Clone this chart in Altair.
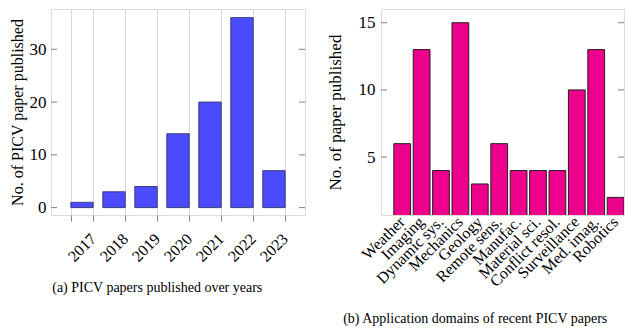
import altair as alt
import pandas as pd

years = ["2017", "2018", "2019", "2020", "2021", "2022", "2023"]
year_counts = [1, 3, 4, 14, 20, 36, 7]

domains = ["Weather", "Imaging", "Dynamic sys.", "Mechanics", "Geology", "Remote sens.",
           "Manufac.", "Material sci.", "Conflict resol.", "Surveillance", "Med. imag.", "Robotics"]
domain_counts = [6, 13, 4, 15, 3, 6, 4, 4, 4, 10, 13, 2]

left_ticks = [0, 10, 20, 30]
right_ticks = [5, 10, 15]

FONT = "Liberation Serif"
BORDER = "#808080"

df_a = pd.DataFrame({"year": years, "count": year_counts})
df_b = pd.DataFrame({"domain": domains, "count": domain_counts})
df_ta = pd.DataFrame({"v": left_ticks})
df_tb = pd.DataFrame({"v": right_ticks})

WA, HA = 254, 206
WB, HB = 243, 206

ya = alt.Scale(domain=[-1.4, 37.64], nice=False, zero=False)
bars_a = alt.Chart(df_a).mark_bar(color="#4b4bff", stroke="#3c3c80", strokeWidth=1).encode(
    x=alt.X("year:N", sort=years, title=None,
            scale=alt.Scale(paddingInner=0.3, paddingOuter=0.62),
            axis=alt.Axis(labelAngle=-45, labelAlign="right", labelBaseline="middle",
                          labelFont=FONT, labelFontSize=16, labelColor="black",
                          labelOffset=11, labelPadding=15,
                          tickBand="extent", ticks=True, tickSize=6, tickColor=BORDER,
                          grid=True, gridColor="#d9d9d9", domain=False)),
    y=alt.Y("count:Q", scale=ya, title="No. of PICV paper published",
            axis=alt.Axis(values=left_ticks, ticks=False, grid=False, domain=False,
                          labelFont=FONT, labelFontSize=17, labelColor="black", labelPadding=5,
                          titleFont=FONT, titleFontSize=16, titleFontWeight="normal",
                          titleColor="black", titlePadding=4)),
)
ticks_al = alt.Chart(df_ta).mark_rule(color=BORDER).encode(
    y=alt.Y("v:Q", scale=ya), x=alt.value(0), x2=alt.value(6))
ticks_ar = alt.Chart(df_ta).mark_rule(color=BORDER).encode(
    y=alt.Y("v:Q", scale=ya), x=alt.value(WA - 6), x2=alt.value(WA))

chart_a = alt.layer(bars_a, ticks_al, ticks_ar).properties(
    width=WA, height=HA,
    title=alt.TitleParams("(a) PICV papers published over years", orient="bottom",
                          frame="bounds", anchor="middle", font=FONT, fontSize=14,
                          fontWeight="normal", color="black", offset=17),
)

yb = alt.Scale(domain=[0.69, 16.02], nice=False, zero=False)
bars_b = alt.Chart(df_b).mark_bar(color="#ec008c", stroke="#222222", strokeWidth=1, clip=True).encode(
    x=alt.X("domain:N", sort=domains, title=None,
            scale=alt.Scale(paddingInner=0.135, paddingOuter=0.33, align=1),
            axis=alt.Axis(labelAngle=-45, labelAlign="right", labelBaseline="middle",
                          labelFont=FONT, labelFontSize=16, labelColor="black",
                          labelPadding=4, ticks=False, grid=False, domain=False)),
    y=alt.Y("count:Q", scale=yb, title="No. of paper published",
            axis=alt.Axis(values=right_ticks, ticks=False, grid=False, domain=False,
                          labelFont=FONT, labelFontSize=17, labelColor="black", labelPadding=6,
                          titleFont=FONT, titleFontSize=17, titleFontWeight="normal",
                          titleColor="black", titlePadding=14)),
)
ticks_bl = alt.Chart(df_tb).mark_rule(color=BORDER).encode(
    y=alt.Y("v:Q", scale=yb), x=alt.value(0), x2=alt.value(6))
ticks_br = alt.Chart(df_tb).mark_rule(color=BORDER).encode(
    y=alt.Y("v:Q", scale=yb), x=alt.value(WB - 6), x2=alt.value(WB))

chart_b = alt.layer(bars_b, ticks_bl, ticks_br).properties(
    width=WB, height=HB,
    title=alt.TitleParams("(b) Application domains of recent PICV papers", orient="bottom",
                          frame="bounds", anchor="middle", font=FONT, fontSize=14,
                          fontWeight="normal", color="black", offset=23),
)

chart = alt.hconcat(chart_a, chart_b, spacing=19).properties(
    padding={"left": 0, "top": 0, "right": 0, "bottom": 0}
).configure_view(stroke=BORDER, strokeWidth=1.2).configure(background="white")

chart.save("out.html", embed_options={"renderer": "svg", "actions": False})
